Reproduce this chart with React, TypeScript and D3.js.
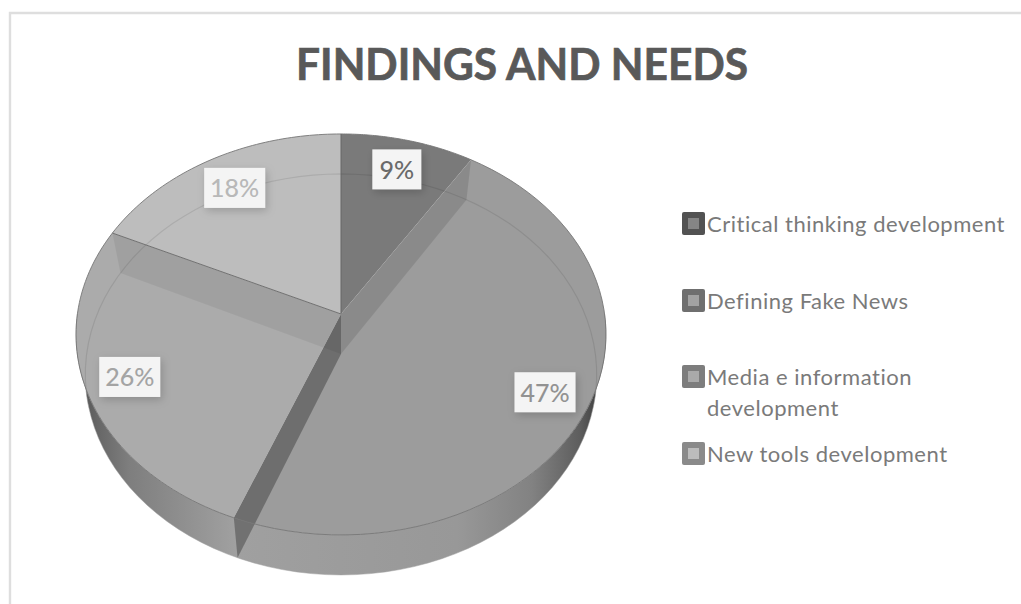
import React from "react";
import * as d3 from "d3";

// Chart content
const chartTitle = "FINDINGS AND NEEDS";
const categories = [
  "Critical thinking development",
  "Defining Fake News",
  "Media e information development",
  "New tools development",
];
const shares = [9, 47, 26, 18];
const legendLines = [
  ["Critical thinking development"],
  ["Defining Fake News"],
  ["Media e information", "development"],
  ["New tools development"],
];

// Greys per category, in category order
const faceFill = ["#7a7a7a", "#9c9c9c", "#ababab", "#bdbdbd"];
const labelInk = ["#6a6a6a", "#929292", "#a4a4a4", "#b8b8b8"];
const swatchOuter = ["#525252", "#6f6f6f", "#7d7d7d", "#8a8a8a"];
const swatchInner = ["#858585", "#a2a2a2", "#aaaaaa", "#bcbcbc"];
const cutWallInk = ["rgba(0,0,0,0.11)", "rgba(0,0,0,0.29)", "rgba(0,0,0,0.06)", "rgba(0,0,0,0)"];
const labelRadius = [0.82, 0.835, 0.835, 0.805];

const W = 1021;
const H = 604;
const FONT = "Lato, 'Open Sans', sans-serif";

// Tilted-disc projection of the pie: angle in radians clockwise from 12 o'clock
const cx = 341;
const cy = 314;
const rx = 263.6;
const ry = 198.4;
const persp = 0.102;
const thickness = 40;
const baseShrink = 0.965;

function project(theta: number, r: number, base = false): [number, number] {
  const X = r * Math.sin(theta);
  const Y = r * Math.cos(theta);
  const s = 1 / (1 + persp * Y);
  const k = base ? baseShrink : 1;
  return [cx + k * rx * X * s, cy + (base ? thickness : 0) - ry * Y * s];
}

const sampleArc = (a0: number, a1: number, base = false) =>
  d3.range(0, 61).map((i) => project(a0 + ((a1 - a0) * i) / 60, 1, base));

const line = d3.line();

const pieLayout = d3
  .pie<number>()
  .sort(null)
  .value((d) => d);

// Horizontal shading of the outer wall
const wallStops: [number, string][] = [
  [0, "#4e4e4e"],
  [0.04, "#666666"],
  [0.1, "#7e7e7e"],
  [0.3, "#a0a0a0"],
  [0.5, "#9c9c9c"],
  [0.72, "#989898"],
  [0.86, "#828282"],
  [0.95, "#5e5e5e"],
  [1, "#333333"],
];

const legendRowY = [224, 301, 377, 454];
const legendLineStep = 31;

export default function App() {
  const arcs = pieLayout(shares);
  const tau = Math.PI * 2;
  const frontArc = sampleArc(Math.PI / 2, (Math.PI * 3) / 2);
  const frontBase = sampleArc(Math.PI / 2, (Math.PI * 3) / 2, true);
  const wallPath = line([...frontArc, ...frontBase.slice().reverse()]) + "Z";
  const backBase = sampleArc(-Math.PI / 2 - 0.25, Math.PI / 2 + 0.25, true);

  return (
    <svg
      width={W}
      height={H}
      viewBox={`0 0 ${W} ${H}`}
      style={{ position: "absolute", left: 0, top: 0, background: "#fff" }}
    >
      <defs>
        <linearGradient id="wallShade" x1="0" x2="1" y1="0" y2="0">
          {wallStops.map(([o, c]) => (
            <stop key={o} offset={o} stopColor={c} />
          ))}
        </linearGradient>
        <filter id="boxShadow" x="-30%" y="-30%" width="170%" height="170%">
          <feDropShadow dx="2" dy="3" stdDeviation="4" floodColor="#000" floodOpacity="0.18" />
        </filter>
      </defs>

      {/* Chart frame */}
      <path d="M10,604V13H1021" fill="none" stroke="#dedede" strokeWidth={2.4} />

      <text
        x={522}
        y={80}
        textAnchor="middle"
        fontFamily={FONT}
        fontWeight={700}
        fontSize={44}
        fill="#595959"
        stroke="#595959"
        strokeWidth={0.7}
        textLength={452}
        lengthAdjust="spacingAndGlyphs"
      >
        {chartTitle}
      </text>

      {/* Outer wall */}
      <path d={wallPath} fill="url(#wallShade)" stroke="#a0a0a0" strokeWidth={0.5} />

      {/* Top faces */}
      {arcs.map((a, i) => (
        <path
          key={categories[i]}
          d={line([project(0, 0), ...sampleArc(a.startAngle, a.endAngle)]) + "Z"}
          fill={faceFill[i]}
        />
      ))}

      {/* Cut walls, seen through the translucent slices */}
      {arcs.map((a, i) => {
        const outerTop = project(a.endAngle % tau, 1);
        const outerBase = project(a.endAngle % tau, 1, true);
        return (
          <path
            key={`cut-${i}`}
            d={line([project(0, 0), outerTop, outerBase, project(0, 0, true)]) + "Z"}
            fill={cutWallInk[i]}
          />
        );
      })}

      {/* Far edge of the base showing through */}
      <path d={line(backBase) ?? ""} fill="none" stroke="rgba(0,0,0,0.09)" strokeWidth={1.2} />

      {/* Slice outlines */}
      {arcs.map((a, i) => (
        <path
          key={`edge-${i}`}
          d={line(sampleArc(a.startAngle, a.endAngle)) ?? ""}
          fill="none"
          stroke="#767676"
          strokeWidth={0.9}
        />
      ))}
      <path d={line([project(0, 1), project(0, 0)]) ?? ""} stroke="#666666" strokeWidth={1} />
      <path d={line([project(0, 0), project(arcs[2].endAngle, 1)]) ?? ""} stroke="#707070" strokeWidth={1} />

      {/* Value labels */}
      {arcs.map((a, i) => {
        const mid = (a.startAngle + a.endAngle) / 2;
        const [lx, ly] = project(mid, labelRadius[i]);
        const label = `${shares[i]}%`;
        const boxW = label.length === 2 ? 49 : 61;
        const boxH = 40;
        return (
          <g key={`label-${i}`}>
            <rect
              x={lx - boxW / 2}
              y={ly - boxH / 2}
              width={boxW}
              height={boxH}
              fill="#f4f4f4"
              filter="url(#boxShadow)"
            />
            <text
              x={lx}
              y={ly + 9.5}
              textAnchor="middle"
              fontFamily={FONT}
              fontSize={25}
              fontWeight={500}
              fill={labelInk[i]}
            >
              {label}
            </text>
          </g>
        );
      })}

      {/* Legend */}
      {categories.map((c, i) => (
        <g key={`legend-${c}`}>
          <rect x={682} y={legendRowY[i] - 12} width={23} height={23} rx={2} fill={swatchOuter[i]} />
          <rect x={688} y={legendRowY[i] - 6} width={11} height={11} fill={swatchInner[i]} />
          {legendLines[i].map((t, j) => (
            <text
              key={t}
              x={707}
              y={legendRowY[i] + 8 + j * legendLineStep}
              fontFamily={FONT}
              fontSize={22}
              letterSpacing={0.52}
              fill="#7a7a7a"
            >
              {t}
            </text>
          ))}
        </g>
      ))}
    </svg>
  );
}
